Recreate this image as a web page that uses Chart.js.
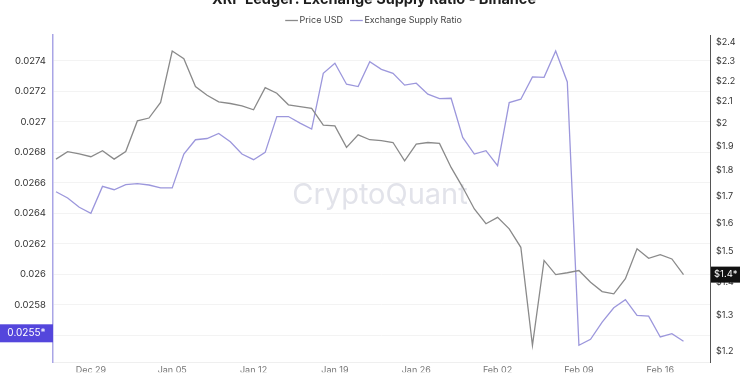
<!DOCTYPE html>
<html>
<head>
<meta charset="utf-8">
<script src="https://cdn.jsdelivr.net/npm/chart.js@4"></script>
<style>
  html, body { margin: 0; padding: 0; background: #fff; overflow: hidden; }
  #wrap { width: 750px; height: 375px; }
</style>
</head>
<body>
<div id="wrap"><canvas id="myChart" width="750" height="375"></canvas></div>
<script>
// daily dates, Dec 26 -> Feb 18
const dates = [
  "Dec 26", "Dec 27", "Dec 28", "Dec 29", "Dec 30", "Dec 31",
  "Jan 01", "Jan 02", "Jan 03", "Jan 04", "Jan 05", "Jan 06", "Jan 07", "Jan 08",
  "Jan 09", "Jan 10", "Jan 11", "Jan 12", "Jan 13", "Jan 14", "Jan 15", "Jan 16",
  "Jan 17", "Jan 18", "Jan 19", "Jan 20", "Jan 21", "Jan 22", "Jan 23", "Jan 24",
  "Jan 25", "Jan 26", "Jan 27", "Jan 28", "Jan 29", "Jan 30", "Jan 31",
  "Feb 01", "Feb 02", "Feb 03", "Feb 04", "Feb 05", "Feb 06", "Feb 07", "Feb 08",
  "Feb 09", "Feb 10", "Feb 11", "Feb 12", "Feb 13", "Feb 14", "Feb 15", "Feb 16",
  "Feb 17", "Feb 18"
];

const priceUsd = [
  1.846, 1.877, 1.868, 1.856, 1.881, 1.846, 1.878, 2.011, 2.024, 2.096,
  2.352, 2.312, 2.172, 2.130, 2.099, 2.091, 2.080, 2.062, 2.167, 2.140,
  2.085, 2.076, 2.068, 1.992, 1.989, 1.895, 1.949, 1.928, 1.924, 1.916,
  1.839, 1.909, 1.916, 1.912, 1.812, 1.733, 1.651, 1.597, 1.620, 1.579,
  1.515, 1.216, 1.471, 1.425, 1.431, 1.438, 1.401, 1.372, 1.365, 1.412,
  1.510, 1.478, 1.490, 1.476, 1.425
];

const supplyRatio = [
  0.026542, 0.026501, 0.026440, 0.026400, 0.026577, 0.026555, 0.026588, 0.026595, 0.026586, 0.026567,
  0.026567, 0.026789, 0.026883, 0.026891, 0.026924, 0.026870, 0.026789, 0.026752, 0.026800, 0.027035,
  0.027035, 0.026992, 0.026953, 0.027319, 0.027385, 0.027247, 0.027232, 0.027395, 0.027345, 0.027319,
  0.027241, 0.027254, 0.027182, 0.027153, 0.027155, 0.026898, 0.026789, 0.026811, 0.026713, 0.027127,
  0.027149, 0.027295, 0.027292, 0.027465, 0.027262, 0.025535, 0.025574, 0.025687, 0.025781, 0.025834,
  0.025731, 0.025726, 0.025589, 0.025611, 0.025561
];

const xTickDates = ["Dec 29", "Jan 05", "Jan 12", "Jan 19", "Jan 26", "Feb 02", "Feb 09", "Feb 16"];
const ratioTicks = [0.0256, 0.0258, 0.026, 0.0262, 0.0264, 0.0266, 0.0268, 0.027, 0.0272, 0.0274];
const priceTicks = [1.2, 1.3, 1.4, 1.5, 1.6, 1.7, 1.8, 1.9, 2.0, 2.1, 2.2, 2.3, 2.4];

const FONT = "Inter, 'Noto Sans', sans-serif";
const priceColor = '#8a8a8a';
const ratioColor = '#9c97dc';

// title sits mostly above the top edge, watermark and value badges
const extras = {
  id: 'extras',
  beforeDatasetsDraw(chart) {
    const c = chart.ctx;
    c.save();
    c.font = '29px ' + FONT;
    c.fillStyle = '#e2e3ea';
    c.textAlign = 'center';
    c.textBaseline = 'middle';
    c.fillText('CryptoQuant', 380, 195);
    c.restore();
  },
  afterDraw(chart) {
    const c = chart.ctx;
    const a = chart.chartArea;
    c.save();
    c.font = 'bold 14.5px ' + FONT;
    c.fillStyle = '#1e1e1e';
    c.textAlign = 'center';
    c.textBaseline = 'alphabetic';
    c.fillText('XRP Ledger: Exchange Supply Ratio - Binance', 374, 4);

    // left badge
    const lastRatio = supplyRatio[supplyRatio.length - 1];
    let yl = chart.scales.yRatio.getPixelForValue(lastRatio);
    yl = Math.min(yl, a.bottom - 29);
    c.fillStyle = '#5446dc';
    c.fillRect(0, yl - 9, a.left, 18);
    c.fillStyle = '#fff';
    c.font = '10px ' + FONT;
    c.textAlign = 'center';
    c.textBaseline = 'middle';
    c.fillText((Math.floor(lastRatio * 1e4) / 1e4) + '*', a.left / 2, yl);

    // right badge
    const lastPrice = priceUsd[priceUsd.length - 1];
    const yr = chart.scales.yPrice.getPixelForValue(lastPrice);
    c.fillStyle = '#111';
    c.fillRect(a.right + 1, yr - 8, 29, 16);
    c.fillStyle = '#fff';
    c.font = '9.5px ' + FONT;
    c.textAlign = 'left';
    c.fillText('$' + (Math.floor(lastPrice * 10) / 10) + '*', a.right + 4, yr);
    c.restore();
  }
};

const myChart = document.getElementById('myChart');
const lineChart = new Chart(myChart, {
  type: 'line',
  data: {
    datasets: [{
      label: 'Price USD',
      data: priceUsd.map((v, i) => ({x: i, y: v})),
      yAxisID: 'yPrice',
      borderColor: priceColor,
      backgroundColor: priceColor,
      borderWidth: 1.3,
      pointRadius: 0,
      tension: 0
    }, {
      label: 'Exchange Supply Ratio',
      data: supplyRatio.map((v, i) => ({x: i, y: v})),
      yAxisID: 'yRatio',
      borderColor: ratioColor,
      backgroundColor: ratioColor,
      borderWidth: 1.3,
      pointRadius: 0,
      tension: 0
    }]
  },
  options: {
    responsive: false,
    animation: false,
    layout: { padding: { top: 6, left: 0, right: 0, bottom: 0 } },
    plugins: {
      title: { display: false },
      tooltip: { enabled: false },
      legend: {
        display: true,
        position: 'top',
        labels: {
          usePointStyle: true,
          pointStyle: 'line',
          boxWidth: 7,
          color: '#444',
          font: { family: FONT, size: 9 },
          padding: 10
        }
      }
    },
    scales: {
      x: {
        type: 'linear',
        min: -0.26,
        max: 56.28,
        grid: { display: false, drawTicks: false },
        border: { color: '#efefef' },
        afterBuildTicks: s => { s.ticks = xTickDates.map(d => ({value: dates.indexOf(d)})); },
        afterFit: s => { s.height = 10; },
        ticks: {
          autoSkip: false,
          maxRotation: 0,
          padding: 3,
          color: '#777',
          font: { family: FONT, size: 9 },
          callback: v => dates[v]
        }
      },
      yRatio: {
        position: 'left',
        min: 0.025423,
        max: 0.02757,
        afterBuildTicks: s => { s.ticks = ratioTicks.map(v => ({value: v})); },
        afterFit: s => { s.width = 53; },
        grid: { color: '#f3f3f3', drawTicks: false },
        border: { color: '#a9a5e6', width: 1.5 },
        ticks: {
          padding: 7,
          color: '#333',
          font: { family: FONT, size: 9.5 },
          callback: v => String(Number(v.toFixed(4)))
        }
      },
      yPrice: {
        type: 'logarithmic',
        position: 'right',
        min: 1.1708,
        max: 2.438,
        afterBuildTicks: s => { s.ticks = priceTicks.map(v => ({value: v})); },
        afterFit: s => { s.width = 40; },
        grid: { display: false, drawTicks: false },
        border: { color: '#555', width: 1 },
        ticks: {
          padding: 6,
          color: '#333',
          font: { family: FONT, size: 9 },
          callback: v => '$' + Number(v.toFixed(1))
        }
      }
    }
  },
  plugins: [extras]
});
</script>
</body>
</html>
